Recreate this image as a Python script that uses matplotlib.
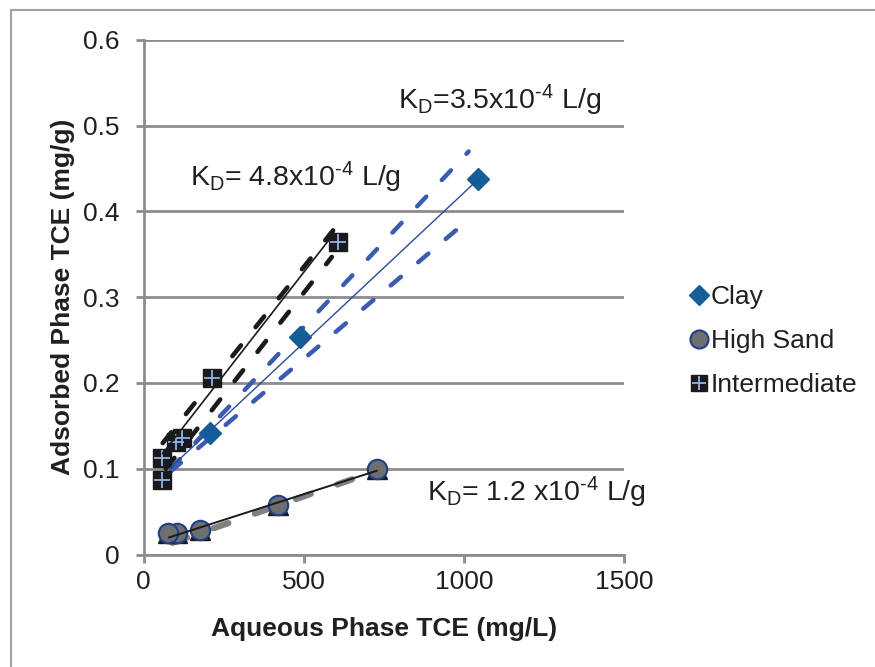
import matplotlib

matplotlib.use("Agg")

import matplotlib.pyplot as plt
from matplotlib.lines import Line2D
from matplotlib.legend_handler import HandlerTuple
import numpy as np

plt.rcParams["font.family"] = ["Liberation Sans", "DejaVu Sans"]
plt.rcParams["mathtext.fontset"] = "custom"
plt.rcParams["mathtext.rm"] = "Liberation Sans"
plt.rcParams["mathtext.it"] = "Liberation Sans:italic"
plt.rcParams["mathtext.bf"] = "Liberation Sans:bold"

# measured isotherm points (aqueous mg/L, adsorbed mg/g)
clay_x = [1045, 489, 208]
clay_y = [0.4375, 0.254, 0.1413]
sand_x = [728, 421, 176, 104, 77]
sand_y = [0.0994, 0.0577, 0.0286, 0.0247, 0.0247]
inter_x = [608, 213, 120, 102, 57, 57]
inter_y = [0.364, 0.2055, 0.136, 0.131, 0.112, 0.087]

# linear fits: slope K_D (L/g -> mg/g per mg/L), intercept, x extent
clay_kd, clay_b, clay_span = 3.5e-4, 0.0718, [85, 1045]
inter_kd, inter_b, inter_span = 4.8e-4, 0.089, [60, 595]
sand_kd, sand_b, sand_span = 1.2e-4, 0.0103, [80, 728]

# bounding lines drawn dashed (endpoints)
clay_upper_x, clay_upper_y = [85, 1015], [0.100, 0.470]
clay_lower_x, clay_lower_y = [85, 1010], [0.097, 0.389]
inter_upper_x, inter_upper_y = [60, 592], [0.130, 0.378]
inter_lower_x, inter_lower_y = [70, 588], [0.100, 0.347]
sand_dash_x, sand_dash_y = [90, 660], [0.0136, 0.0889]

HY = "\u2010"  # plain hyphen in the exponent, not a spaced minus
kd_labels = [
    (795, 0.530, r"K$_{\rm D}$=3.5x10$^{\rm " + HY + r"4}$ L/g"),
    (145, 0.440, r"K$_{\rm D}$= 4.8x10$^{\rm " + HY + r"4}$ L/g"),
    (885, 0.073, r"K$_{\rm D}$= 1.2 x10$^{\rm " + HY + r"4}$ L/g"),
]

CLAY = "#135e96"
BLUE_LINE = "#2a4b9b"
BLUE_DASH = "#3a5bb0"
BLACK = "#1a1a1a"
GREY_DASH = "#808080"
SAND_FILL = "#6d6e70"
SAND_EDGE = "#1f3e8c"
PLUS = "#8ab4e8"
AXIS_GREY = "#8c8c8c"
TEXT = "#231f20"
FS = 19

fig = plt.figure(figsize=(8.75, 6.67), dpi=100)
ax = fig.add_axes([143.5 / 875, 1 - 554.5 / 667, (624 - 143.5) / 875, (554.5 - 40) / 667])

dash_kw = dict(solid_capstyle="round", dash_capstyle="round")
ax.plot(inter_upper_x, inter_upper_y, color=BLACK, lw=3.3, dashes=(3, 5.1), zorder=2, **dash_kw)
ax.plot(inter_lower_x, inter_lower_y, color=BLACK, lw=3.3, dashes=(3, 5.1), zorder=2, **dash_kw)
ax.plot(clay_upper_x, clay_upper_y, color=BLUE_DASH, lw=3.2, dashes=(3, 5.1), zorder=2, **dash_kw)
ax.plot(clay_lower_x, clay_lower_y, color=BLUE_DASH, lw=3.2, dashes=(3, 5.1), zorder=2, **dash_kw)
ax.plot(sand_dash_x, sand_dash_y, color=GREY_DASH, lw=4.5, dashes=(2.5, 4.5), zorder=2, **dash_kw)

# markers
ax.plot(sand_x, sand_y, ls="none", marker="^", ms=14, color=BLACK, zorder=3)
ax.plot(sand_x, sand_y, ls="none", marker="o", ms=14, mfc=SAND_FILL, mec=SAND_EDGE, mew=1.5, zorder=4)
ax.plot(clay_x, clay_y, ls="none", marker="D", ms=11, color=CLAY, zorder=4)
ax.plot(inter_x, inter_y, ls="none", marker="s", ms=12.5, color=BLACK, zorder=4)
ax.plot(inter_x, inter_y, ls="none", marker="+", ms=11, mew=1.3, color=PLUS, zorder=5)

# fitted lines over the markers
for kd, b, span, col, lw in [
    (clay_kd, clay_b, clay_span, BLUE_LINE, 1.0),
    (inter_kd, inter_b, inter_span, BLACK, 1.2),
    (sand_kd, sand_b, sand_span, BLACK, 1.4),
]:
    xs = np.array(span, dtype=float)
    ax.plot(xs, kd * xs + b, color=col, lw=lw, zorder=6)

for x, y, s in kd_labels:
    ax.text(x, y, s, fontsize=20.5, color=TEXT, ha="left", va="center")

ax.set_xlim(0, 1500)
ax.set_ylim(0, 0.6)
ax.set_xticks([0, 500, 1000, 1500])
ax.set_yticks([0, 0.1, 0.2, 0.3, 0.4, 0.5, 0.6])
ax.set_yticklabels(["0", "0.1", "0.2", "0.3", "0.4", "0.5", "0.6"])
ax.yaxis.grid(True, color=AXIS_GREY, lw=2)
ax.set_axisbelow(True)
for side in ("top", "right"):
    ax.spines[side].set_visible(False)
for side in ("left", "bottom"):
    ax.spines[side].set_color(AXIS_GREY)
    ax.spines[side].set_linewidth(2)
ax.tick_params(axis="both", length=6, width=2, color=AXIS_GREY, labelsize=FS, labelcolor=TEXT)
ax.tick_params(axis="y", pad=11)
ax.tick_params(axis="x", pad=5)
ax.set_xlabel("Aqueous Phase TCE (mg/L)", fontsize=FS, fontweight="bold", color=TEXT, labelpad=17)
ax.set_ylabel("Adsorbed Phase TCE (mg/g)", fontsize=FS, fontweight="bold", color=TEXT, labelpad=6)

h_clay = Line2D([], [], ls="none", marker="D", ms=10, color=CLAY)
h_sand = Line2D([], [], ls="none", marker="o", ms=13, mfc=SAND_FILL, mec=SAND_EDGE, mew=1.5)
h_sq = Line2D([], [], ls="none", marker="s", ms=12, color=BLACK)
h_pl = Line2D([], [], ls="none", marker="+", ms=10.5, mew=1.3, color=PLUS)
fig.legend(
    [h_clay, h_sand, (h_sq, h_pl)],
    ["Clay", "High Sand", "Intermediate"],
    handler_map={tuple: HandlerTuple(ndivide=1, pad=0)},
    loc="center left",
    bbox_to_anchor=(666 / 875, 1 - 341 / 667),
    frameon=False,
    fontsize=FS,
    handlelength=0.7,
    handletextpad=0.1,
    labelspacing=0.75,
    labelcolor=TEXT,
)

# outer chart frame
fig.add_artist(Line2D([11 / 875, 11 / 875, 1.0], [0.0, 1 - 10 / 667, 1 - 10 / 667],
                      transform=fig.transFigure, color="#a0a0a0", lw=1.5))

fig.savefig("out.png", dpi=100)
